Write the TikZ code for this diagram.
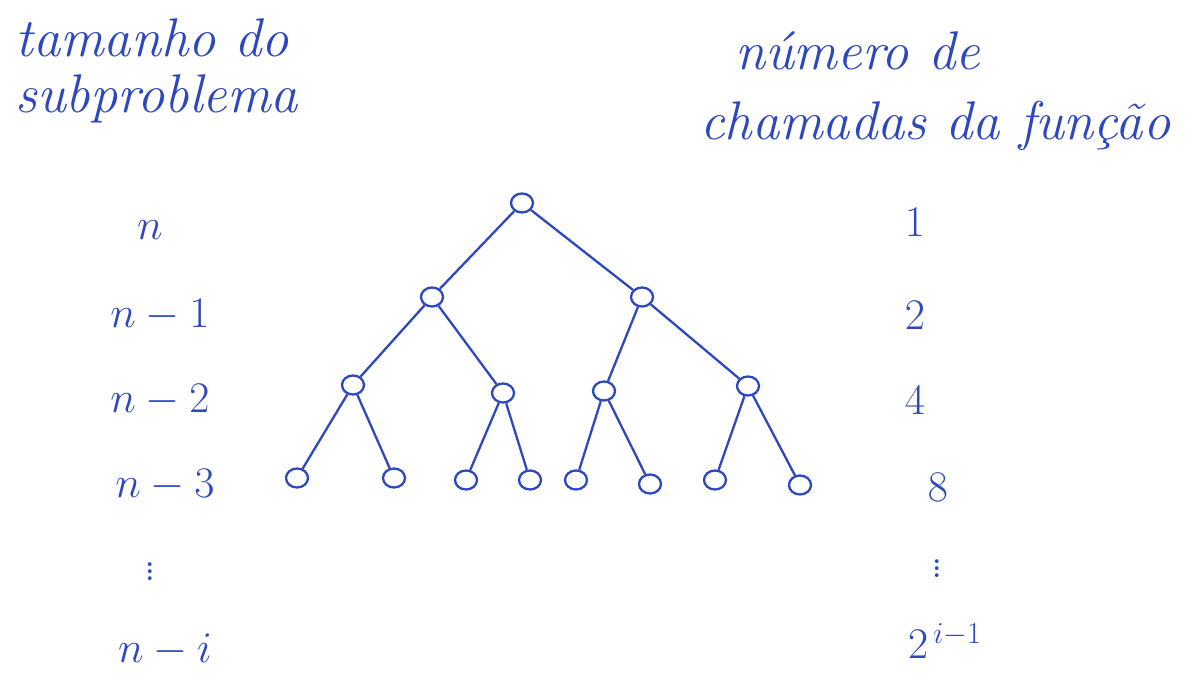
\documentclass[tikz,border=0pt]{standalone}
\usepackage{amsmath}
\usepackage{tikz}
\usetikzlibrary{positioning,shapes.geometric}
\definecolor{penblue}{RGB}{45,72,190}

\begin{document}
\begin{tikzpicture}[penblue,
    vert/.style={draw,line width=1.3pt,ellipse,minimum width=0.44cm,minimum height=0.38cm,inner sep=0pt},
    edge/.style={line width=1.3pt},
    head/.style={font=\fontsize{31}{34}\selectfont\itshape,align=left,anchor=west,inner sep=0pt},
    lvl/.style={font=\fontsize{26}{30}\selectfont,inner sep=0pt}]
  \useasboundingbox[fill=white] (0,0) rectangle (24.02,13.62);
  % headers
  \node[head] (hleft) at (0.3,12.2) {tamanho do\\[-2pt]subproblema};
  \node[head] (hright) at (14.0,11.8) {\hspace*{0.7cm}número de\\[6pt]chamadas da função};
  % tree
  \node[vert] (r) at (10.44,9.56) {};
  \node[vert] (a) at (8.64,7.68) {};
  \node[vert] (b) at (12.84,7.68) {};
  \node[vert] (aa) at (7.06,5.92) {};
  \node[vert] (ab) at (10.06,5.76) {};
  \node[vert] (ba) at (12.08,5.80) {};
  \node[vert] (bb) at (14.96,5.90) {};
  \node[vert] (aaa) at (5.94,4.06) {};
  \node[vert] (aab) at (7.88,4.06) {};
  \node[vert] (aba) at (9.32,4.02) {};
  \node[vert] (abb) at (10.60,4.02) {};
  \node[vert] (baa) at (11.52,4.02) {};
  \node[vert] (bab) at (13.00,3.94) {};
  \node[vert] (bba) at (14.30,4.02) {};
  \node[vert] (bbb) at (16.00,3.92) {};
  \foreach \p/\c in {r/a,r/b,a/aa,a/ab,b/ba,b/bb,aa/aaa,aa/aab,ab/aba,ab/abb,ba/baa,ba/bab,bb/bba,bb/bbb}
    \draw[edge] (\p) -- (\c);
  % subproblem sizes
  \node[lvl] (s0) at (3.0,9.02) {$n$};
  \node[lvl] (s1) at (3.2,7.32) {$n-1$};
  \node[lvl] (s2) at (3.2,5.62) {$n-2$};
  \node[lvl] (s3) at (3.3,3.92) {$n-3$};
  \node[lvl] (sd) at (3.0,2.30) {$\vdots$};
  \node[lvl] (si) at (3.3,0.62) {$n-i$};
  % number of calls
  \node[lvl] (c0) at (18.3,9.18) {$1$};
  \node[lvl] (c1) at (18.3,7.32) {$2$};
  \node[lvl] (c2) at (18.3,5.62) {$4$};
  \node[lvl] (c3) at (18.76,3.88) {$8$};
  \node[lvl] (cd) at (18.74,2.36) {$\vdots$};
  \node[lvl] (ci) at (18.9,0.8) {$2^{\,i-1}$};
\end{tikzpicture}
\end{document}
